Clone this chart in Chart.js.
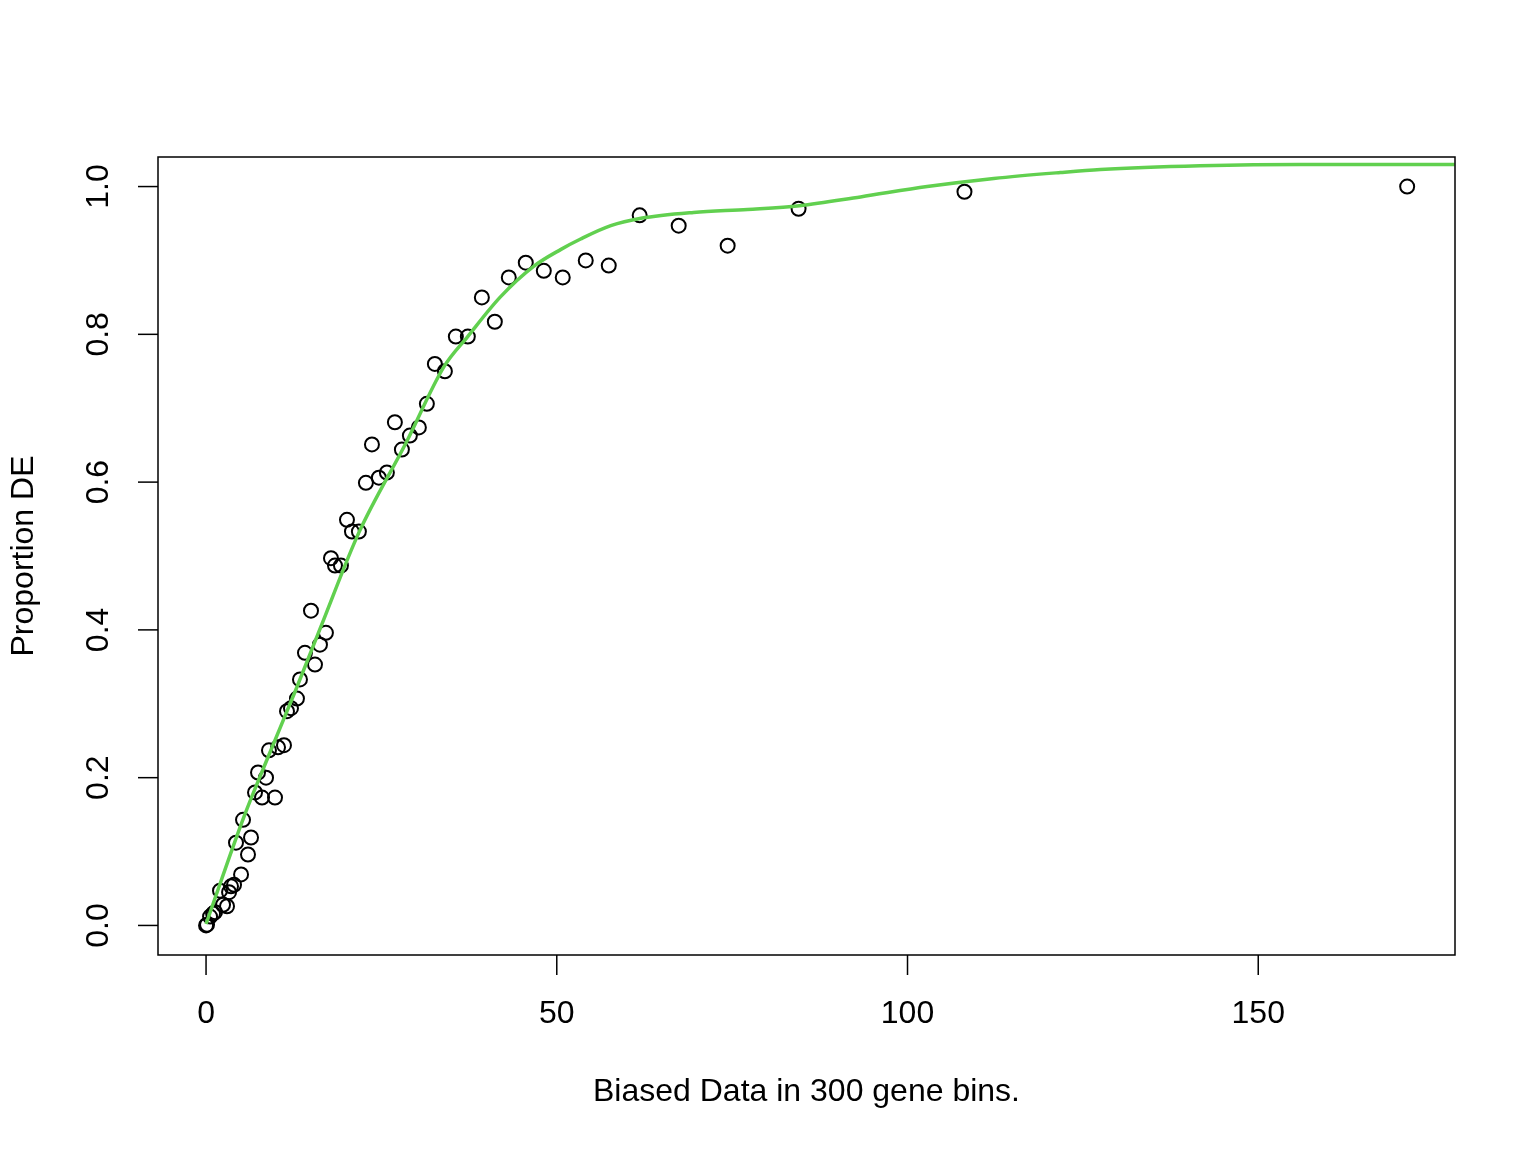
<!DOCTYPE html>
<html>
<head>
<meta charset="utf-8">
<script src="https://cdn.jsdelivr.net/npm/chart.js@4"></script>
<style>
  body { margin: 0; background: #fff; }
  canvas { display: block; }
</style>
</head>
<body>
<canvas id="plot" width="1536" height="1152"></canvas>
<script>
// binned points: mean bias (x) vs proportion DE (y)
const binX = [0, 0.14, 0.57, 1.0, 1.28, 1.99, 2.42, 2.99, 3.28, 3.56, 3.99, 4.99, 4.27, 5.27, 5.98, 6.41,
  6.98, 7.41, 7.98, 8.55, 8.97, 9.83, 10.26, 11.11, 11.54, 12.11, 12.96, 13.39, 14.1, 14.96, 15.53,
  16.24, 17.09, 17.81, 18.38, 19.23, 20.09, 20.8, 21.79, 22.79, 23.65, 24.64, 25.78, 26.92, 27.92,
  29.06, 30.34, 31.48, 32.62, 34.05, 35.61, 37.32, 39.32, 41.17, 43.16, 45.58, 48.15, 50.85, 54.13,
  57.41, 61.82, 67.38, 74.36, 84.47, 108.12, 171.23];
const binY = [0, 0.001, 0.012, 0.016, 0.018, 0.047, 0.028, 0.026, 0.045, 0.053, 0.055, 0.069, 0.112, 0.143,
  0.096, 0.119, 0.18, 0.207, 0.173, 0.2, 0.237, 0.173, 0.241, 0.244, 0.29, 0.294, 0.307, 0.333, 0.369,
  0.426, 0.353, 0.38, 0.396, 0.497, 0.487, 0.487, 0.549, 0.533, 0.533, 0.599, 0.651, 0.606, 0.613,
  0.681, 0.644, 0.663, 0.674, 0.706, 0.76, 0.75, 0.797, 0.797, 0.85, 0.817, 0.877, 0.897, 0.886,
  0.877, 0.9, 0.893, 0.961, 0.947, 0.92, 0.97, 0.993, 1.0];

// fitted spline (green line)
const fitX = [0, 5.4, 8.8, 12.8, 16.4, 21.8, 28.5, 33.9, 37.3, 42.0, 46.7, 50.6, 53.4, 57.7, 62.0, 69.5,
  77.2, 84.6, 93.3, 102.8, 112.3, 121.8, 127.5, 141.7, 156, 178];
const fitY = [0.002, 0.147, 0.227, 0.319, 0.405, 0.532, 0.653, 0.756, 0.797, 0.851, 0.892, 0.915, 0.929,
  0.947, 0.957, 0.965, 0.969, 0.974, 0.986, 1.0, 1.011, 1.019, 1.023, 1.028, 1.030, 1.030];

const xTicks = [0, 50, 100, 150];
const yTicks = [0, 0.2, 0.4, 0.6, 0.8, 1.0];
const xTitle = 'Biased Data in 300 gene bins.';
const yTitle = 'Proportion DE';

const FONT = '32px "Liberation Sans", Arial, sans-serif';

// R style axes: frame, outward ticks, vertical y labels
const rAxes = {
  id: 'rAxes',
  afterDraw(chart) {
    const c = chart.ctx;
    const a = chart.chartArea;
    const xs = chart.scales.x, ys = chart.scales.y;
    c.save();
    c.strokeStyle = '#000';
    c.fillStyle = '#000';
    c.lineWidth = 1.5;
    c.strokeRect(a.left, a.top, a.right - a.left, a.bottom - a.top);
    c.font = FONT;
    c.textAlign = 'center';
    c.textBaseline = 'middle';
    xTicks.forEach(v => {
      const px = xs.getPixelForValue(v);
      c.beginPath();
      c.moveTo(px, a.bottom);
      c.lineTo(px, a.bottom + 20);
      c.stroke();
      c.fillText(String(v), px, a.bottom + 59);
    });
    yTicks.forEach(v => {
      const py = ys.getPixelForValue(v);
      c.beginPath();
      c.moveTo(a.left, py);
      c.lineTo(a.left - 20, py);
      c.stroke();
      c.save();
      c.translate(a.left - 59, py);
      c.rotate(-Math.PI / 2);
      c.fillText(v.toFixed(1), 0, 0);
      c.restore();
    });
    c.fillText(xTitle, (a.left + a.right) / 2, a.bottom + 137);
    c.save();
    c.translate(24, (a.top + a.bottom) / 2);
    c.rotate(-Math.PI / 2);
    c.fillText(yTitle, 0, 0);
    c.restore();
    c.restore();
  }
};

const ctx = document.getElementById('plot').getContext('2d');
new Chart(ctx, {
  type: 'scatter',
  data: {
    datasets: [
      {
        label: 'fit',
        type: 'line',
        data: fitX.map((x, i) => ({ x: x, y: fitY[i] })),
        borderColor: '#61D04F',
        borderWidth: 3.5,
        pointRadius: 0,
        fill: false,
        cubicInterpolationMode: 'monotone',
        order: 0
      },
      {
        label: 'bins',
        data: binX.map((x, i) => ({ x: x, y: binY[i] })),
        pointStyle: 'circle',
        pointRadius: 7,
        borderWidth: 2,
        borderColor: '#000',
        backgroundColor: 'rgba(0,0,0,0)',
        order: 1
      }
    ]
  },
  options: {
    responsive: false,
    devicePixelRatio: 1,
    animation: false,
    layout: { padding: { left: 158, right: 81, top: 157, bottom: 197 } },
    plugins: { legend: { display: false }, tooltip: { enabled: false } },
    scales: {
      x: { type: 'linear', min: -6.85, max: 178.05, display: false },
      y: { type: 'linear', min: -0.04, max: 1.04, display: false }
    }
  },
  plugins: [rAxes]
});
</script>
</body>
</html>
